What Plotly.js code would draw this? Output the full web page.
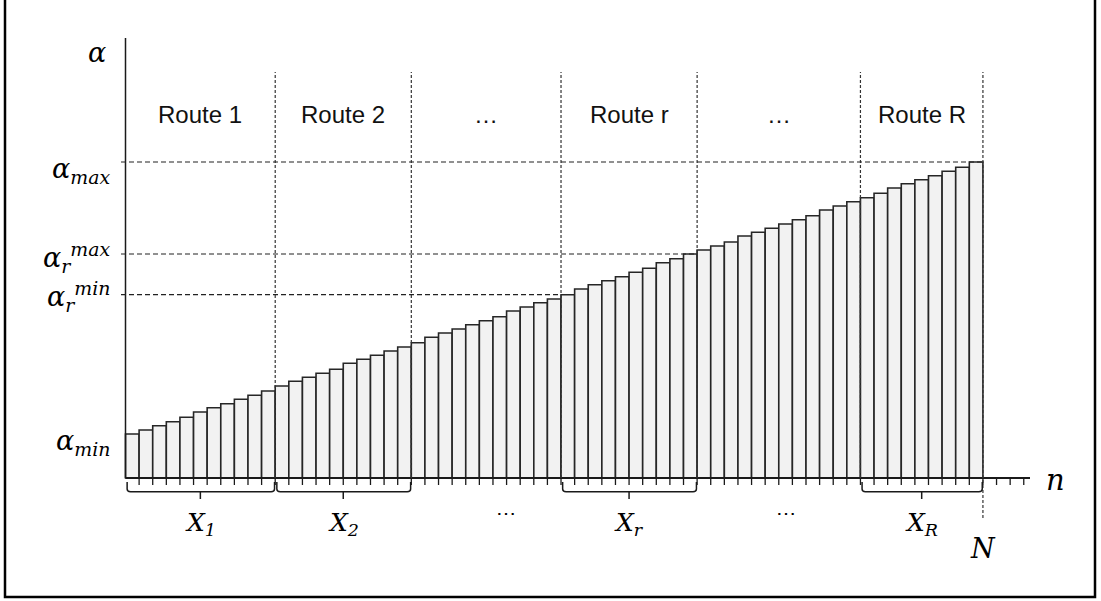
<!DOCTYPE html>
<html><head><meta charset="utf-8">
<script src="https://cdn.plot.ly/plotly-3.0.1.min.js"></script>
<style>html,body{margin:0;padding:0;background:#fff;} #chart{width:1101px;height:601px;}</style>
</head><body><div id="chart"></div>
<script>
// ---- data (alpha per position n) ----
const barValues = [44, 48, 52.3, 56.3, 60.7, 66, 70.3, 74.3, 78.7, 82.7, 87,
  92, 96.7, 100.7, 104.7, 108.7, 114.7, 118.7, 122.7, 127, 131,
  135.3, 140.7, 145, 149, 153.3, 157.3, 161.3, 167, 171, 175.3, 179,
  183.3, 189, 193.3, 197.3, 201.3, 205.7, 209.7, 215.3, 219.3, 224,
  228, 232, 236, 242, 245.7, 249.7, 254, 258.3, 262.3, 268, 272,
  276.3, 280.3, 284.7, 290, 294.3, 298.3, 302.3, 306.7, 310.7, 316];
const routeNames = ["Route 1", "Route 2", "\u2026", "Route r", "\u2026", "Route R"];
const routeSizes = [11, 10, 11, 10, 12, 9];
const groupLabels = ["X<sub>1</sub>", "X<sub>2</sub>", "\u22ef", "X<sub>r</sub>", "\u22ef", "X<sub>R</sub>"];
const extraTicks = 3;
const selectedRoute = 3; // index of "Route r"

// ---- geometry ----
const W = 1101, H = 601;
const BW = 13.61;           // px per bar
const OX = 125.5, OY = 478; // origin in px
const XA = 0.5 - OX / BW, XB = XA + W / BW;
const YB = OY, YA = OY - H;
const toX = px => XA + px / BW;
const toY = py => OY - py;

const xs = barValues.map((v, i) => i + 1);
const nBars = barValues.length;
const cum = [0];
routeSizes.forEach(s => cum.push(cum[cum.length - 1] + s));

const shapes = [];
const annotations = [];
const lineCol = '#1a1a1a';
const serif = 'DejaVu Serif, serif';

// frame
shapes.push({type: 'path', xref: 'paper', yref: 'paper',
  path: `M ${5/W},1.01 L ${5/W},${1-597/H} L ${1095/W},${1-597/H} L ${1095/W},1.01`,
  line: {color: '#000', width: 2.5}});

// y axis & x axis
shapes.push({type: 'line', x0: 0.5, x1: 0.5, y0: 0, y1: toY(38), line: {color: lineCol, width: 1.5}});
shapes.push({type: 'line', x0: 0.5, x1: toX(1030), y0: 0, y1: 0, line: {color: lineCol, width: 1.8}});
for (let k = 1; k <= nBars + extraTicks; k++) {
  shapes.push({type: 'line', x0: k + 0.5, x1: k + 0.5, y0: 0, y1: -7, line: {color: lineCol, width: 1.3}});
}

// vertical dashed route separators
for (let r = 1; r < cum.length; r++) {
  const last = r === cum.length - 1;
  shapes.push({type: 'line', x0: cum[r] + 0.5, x1: cum[r] + 0.5, y0: last ? toY(518) : 0, y1: toY(72),
    line: {color: '#333', width: 1.2, dash: '3px,2px'}});
}

// horizontal dashed level lines
const rStart = cum[selectedRoute], rEnd = cum[selectedRoute + 1];
const levels = [
  {v: barValues[nBars - 1], xEnd: nBars + 0.5, text: '<i>α<sub>max</sub></i>', dy: -8},
  {v: barValues[rEnd - 1], xEnd: rEnd + 0.5, text: '<i>α<sub>r</sub><sup>max</sup></i>', dy: -3},
  {v: barValues[rStart], xEnd: rStart + 0.5, text: '<i>α<sub>r</sub><sup>min</sup></i>', dy: -2}
];
levels.forEach(l => {
  shapes.push({type: 'line', x0: toX(121), x1: l.xEnd, y0: l.v, y1: l.v,
    line: {color: '#222', width: 1.2, dash: '5px,3px'}});
});

// route headers, braces and group labels
const mathFont = {family: serif, size: 27, color: '#000'};
routeNames.forEach((name, r) => {
  const xl = cum[r] + 0.5, xr = cum[r + 1] + 0.5, xc = (xl + xr) / 2;
  annotations.push({x: xc, y: toY(114), text: name, showarrow: false,
    font: {family: 'Liberation Sans, Arial, sans-serif', size: 24, color: '#111'}});
  if (groupLabels[r] !== '\u22ef') {
    const a = xl + 0.12, b = xr - 0.05, c = 0.25;
    shapes.push({type: 'path',
      path: `M ${a},-4 L ${a},-11 Q ${a},-13.7 ${a + c},-13.7 L ${b - c},-13.7 Q ${b},-13.7 ${b},-11 L ${b},-4`,
      line: {color: lineCol, width: 1.5}});
    shapes.push({type: 'line', x0: xc, x1: xc, y0: -13.7, y1: -21, line: {color: lineCol, width: 1.5}});
    annotations.push({x: xc, y: toY(524), text: '<i>' + groupLabels[r] + '</i>', showarrow: false,
      font: {family: serif, size: 25, color: '#000'}});
  } else {
    annotations.push({x: xc, y: toY(513), text: groupLabels[r], showarrow: false, xshift: r === 2 ? 20 : 7,
      font: {family: serif, size: 20, color: '#000'}});
  }
});

// left labels
annotations.push({x: toX(97), y: toY(52), text: '<i>α</i>', showarrow: false, font: mathFont});
levels.forEach(l => {
  annotations.push({x: toX(112), y: l.v, yshift: l.dy, xanchor: 'right', yanchor: 'middle', text: l.text,
    showarrow: false, font: mathFont});
});
annotations.push({x: toX(112), y: barValues[0], yshift: -8, xanchor: 'right', yanchor: 'middle',
  text: '<i>α<sub>min</sub></i>', showarrow: false, font: mathFont});
annotations.push({x: toX(1055), y: toY(480), text: '<i>n</i>', showarrow: false,
  font: {family: serif, size: 29, color: '#000'}});
annotations.push({x: nBars + 0.5, y: toY(548), text: '<i>N</i>', showarrow: false,
  font: {family: serif, size: 27, color: '#000'}});

const trace = {type: 'bar', x: xs, y: barValues, width: 1,
  marker: {color: '#f2f2f2', line: {color: '#262626', width: 1.6}}, hoverinfo: 'skip'};

const layout = {
  width: W, height: H, margin: {l: 0, r: 0, t: 0, b: 0},
  paper_bgcolor: '#fff', plot_bgcolor: '#fff', showlegend: false,
  xaxis: {range: [XA, XB], visible: false, fixedrange: true},
  yaxis: {range: [YA, YB], visible: false, fixedrange: true},
  shapes: shapes, annotations: annotations, bargap: 0
};
Plotly.newPlot('chart', [trace], layout, {staticPlot: true, displayModeBar: false});
</script></body></html>
